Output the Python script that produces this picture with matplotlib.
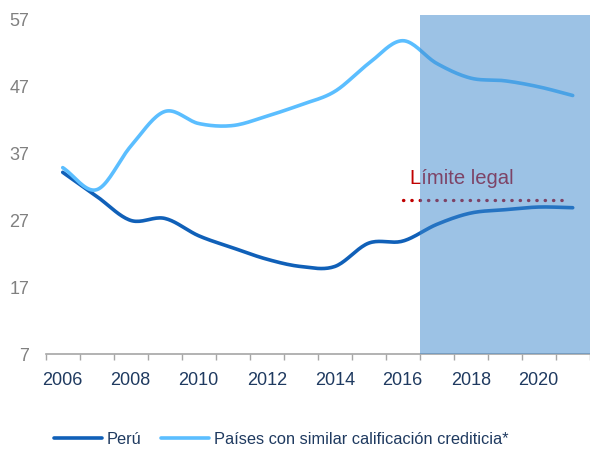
import numpy as np
import matplotlib
matplotlib.use("Agg")
import matplotlib.pyplot as plt
from matplotlib.ticker import FixedLocator

plt.rcParams["font.family"] = ["Liberation Sans", "DejaVu Sans"]

years = list(range(2006, 2022))
peru = [34.2, 30.6, 27.0, 27.3, 24.7, 22.9, 21.2, 20.1, 20.1, 23.6, 23.9,
        26.4, 28.1, 28.6, 29.0, 28.9]
similares = [34.9, 31.6, 38.1, 43.3, 41.5, 41.2, 42.6, 44.3, 46.3, 50.5, 53.9,
             50.5, 48.3, 47.9, 47.0, 45.7]
limite_x = [2016.0, 2020.9]
limite_y = [30.0, 30.0]
proyeccion = [2016.5, 2021.5]
yticks = [7, 17, 27, 37, 47, 57]
xlabels = [2006, 2008, 2010, 2012, 2014, 2016, 2018, 2020]


def smooth(x, y, n=20):
    # catmull-rom, close to excel's smoothed line
    x = np.asarray(x, float)
    y = np.asarray(y, float)
    px = np.concatenate([[2 * x[0] - x[1]], x, [2 * x[-1] - x[-2]]])
    py = np.concatenate([[2 * y[0] - y[1]], y, [2 * y[-1] - y[-2]]])
    xs, ys = [], []
    t = np.linspace(0, 1, n, endpoint=False)
    for i in range(1, len(px) - 2):
        for arr, out in ((px, xs), (py, ys)):
            p0, p1, p2, p3 = arr[i - 1], arr[i], arr[i + 1], arr[i + 2]
            out.extend(0.5 * (2 * p1 + (-p0 + p2) * t
                              + (2 * p0 - 5 * p1 + 4 * p2 - p3) * t ** 2
                              + (-p0 + 3 * p1 - 3 * p2 + p3) * t ** 3))
    xs.append(x[-1])
    ys.append(y[-1])
    return xs, ys


fig = plt.figure(figsize=(5.9, 4.5), dpi=100)
ax = fig.add_axes([0.0775, 0.2133, 0.922, 0.7534])

c_peru = "#1060B8"
c_sim = "#5BBEFF"

ax.plot(*smooth(years, peru), color=c_peru, lw=2.6, solid_capstyle="round",
        label="Perú", zorder=3)
ax.plot(*smooth(years, similares), color=c_sim, lw=2.6, solid_capstyle="round",
        label="Países con similar calificación crediticia*", zorder=3)
ax.plot(limite_x, limite_y, color="#C00000", lw=2.4, linestyle=(0, (0.1, 2.4)),
        dash_capstyle="round", zorder=3)
ax.text(2016.2, 31.9, "Límite legal", color="#C00000", fontsize=14.6,
        ha="left", va="bottom", zorder=3)

ax.axvspan(*proyeccion, color="#3B87CD", alpha=0.5, lw=0, zorder=4)

ax.set_xlim(2005.5, 2021.5)
ax.set_ylim(7, 57.75)
ax.set_yticks(yticks)
ax.set_xticks(xlabels)
ax.xaxis.set_minor_locator(FixedLocator(np.arange(2005.5, 2022, 1.0)))
ax.tick_params(axis="y", length=0, pad=12, labelsize=13, labelcolor="#808080")
ax.tick_params(axis="x", which="major", length=0, pad=13, labelsize=13,
               labelcolor="#1F3A60")
ax.tick_params(axis="x", which="minor", length=4, width=1, color="#A6A6A6",
               direction="out")
for s in ["top", "right", "left"]:
    ax.spines[s].set_visible(False)
ax.spines["bottom"].set_color("#A6A6A6")
ax.spines["bottom"].set_linewidth(1.2)

leg = fig.legend(loc="lower center", bbox_to_anchor=(0.4765, -0.026), ncol=2,
                 frameon=False, fontsize=11.8, handlelength=2.9,
                 columnspacing=1.2, handletextpad=0.3)
for t in leg.get_texts():
    t.set_color("#1F3A60")

fig.savefig("out.png", dpi=100)
